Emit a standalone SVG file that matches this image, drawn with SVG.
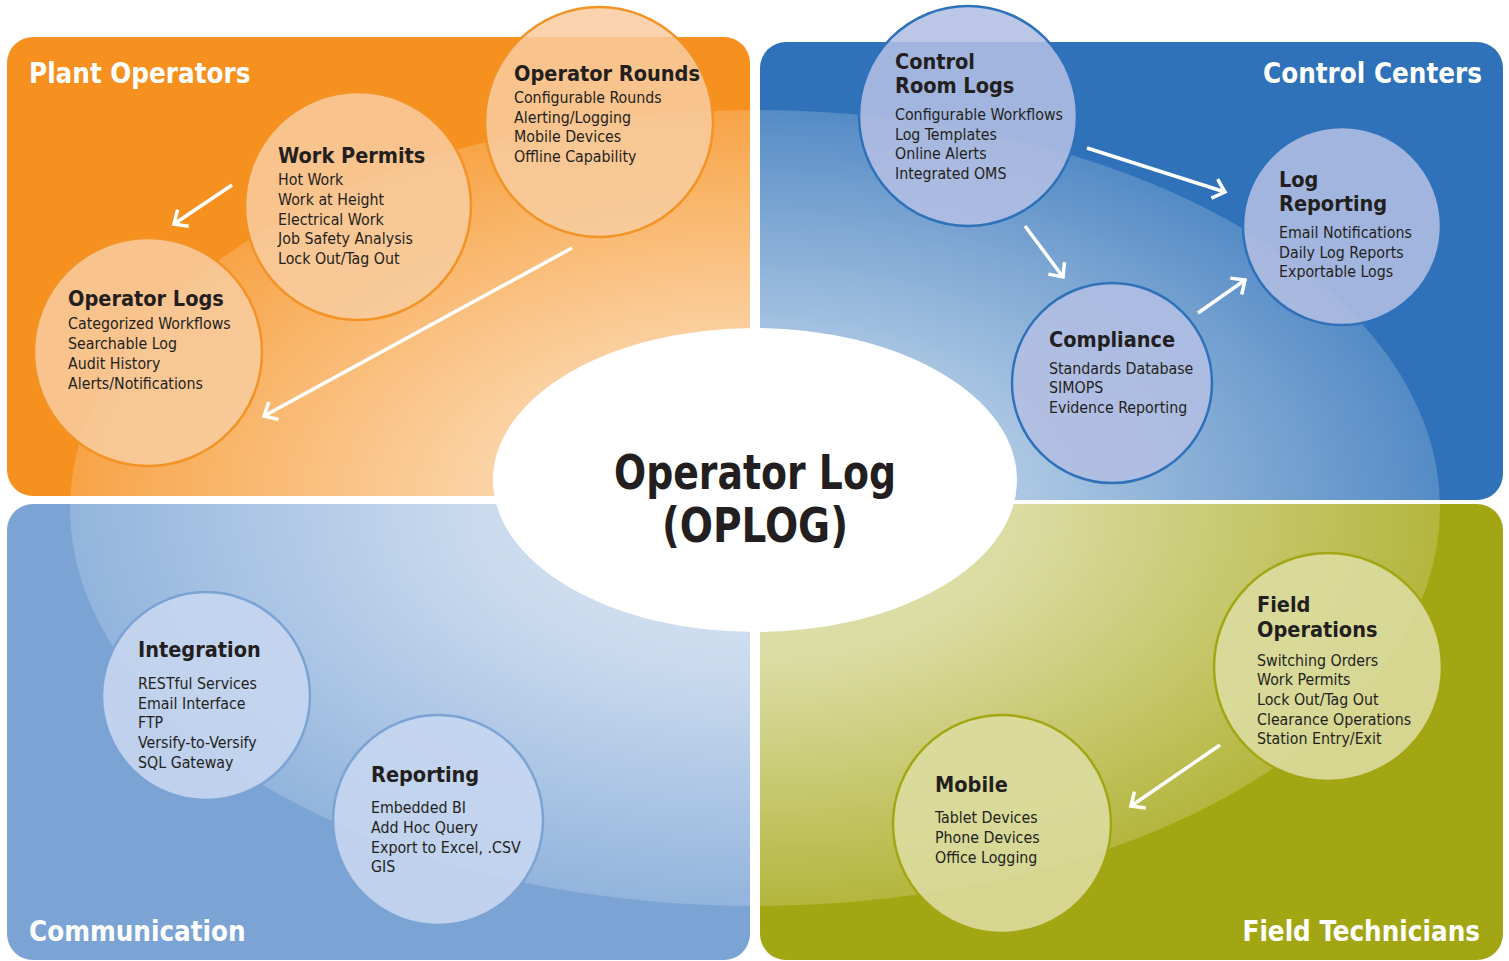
<svg xmlns="http://www.w3.org/2000/svg" width="1509" height="961" viewBox="0 0 1509 961">
<style>
.q{stroke:none}
.lbl{font-family:"DejaVu Sans Condensed","Liberation Sans",sans-serif;font-weight:bold;font-size:27.5px;fill:#ffffff}
.t{font-family:"DejaVu Sans Condensed","Liberation Sans",sans-serif;font-weight:bold;font-size:21.5px;fill:#231F20}
.i{font-family:"DejaVu Sans Condensed","Liberation Sans",sans-serif;font-size:15.8px;fill:#231F20}
.ctr{font-family:"DejaVu Sans Condensed","Liberation Sans",sans-serif;font-weight:bold;font-size:48px;fill:#231F20;text-anchor:middle}
.co{fill:#F8CC9F;fill-opacity:0.86;stroke:#F39325;stroke-width:2.5}
.cb{fill:#B3BEE2;fill-opacity:0.88;stroke:#2F72B9;stroke-width:2.5}
.cl{fill:#C6D6EF;fill-opacity:0.9;stroke:#7BA3D4;stroke-width:2.5}
.cg{fill:#DCDCA0;fill-opacity:0.9;stroke:#A3A613;stroke-width:2.5}
.ar{fill:none;stroke:#ffffff;stroke-width:3.5;marker-end:url(#ah)}
</style>
<defs>
<marker id="ah" markerUnits="userSpaceOnUse" markerWidth="26" markerHeight="26" refX="13" refY="13" orient="auto" viewBox="0 0 26 26">
<path d="M2,3 L13,13 L2,23" fill="none" stroke="#ffffff" stroke-width="3.5"/>
</marker>
<radialGradient id="glow" cx="0.5" cy="0.5" r="0.5">
<stop offset="0" stop-color="#ffffff" stop-opacity="0.72"/>
<stop offset="0.4" stop-color="#ffffff" stop-opacity="0.6"/>
<stop offset="0.75" stop-color="#ffffff" stop-opacity="0.36"/>
<stop offset="1" stop-color="#ffffff" stop-opacity="0.18"/>
</radialGradient>
<clipPath id="quads">
<rect x="7" y="37" width="743" height="459" rx="26"/>
<rect x="760" y="42" width="743" height="458" rx="26"/>
<rect x="7" y="504" width="743" height="456" rx="26"/>
<rect x="760" y="504" width="743" height="456" rx="26"/>
</clipPath>
</defs>
<rect width="1509" height="961" fill="#ffffff"/>
<g id="quadrants">
<rect class="q" x="7" y="37" width="743" height="459" rx="26" fill="#F6901E"/>
<rect class="q" x="760" y="42" width="743" height="458" rx="26" fill="#2F72B9"/>
<rect class="q" x="7" y="504" width="743" height="456" rx="26" fill="#7BA4D5"/>
<rect class="q" x="760" y="504" width="743" height="456" rx="26" fill="#A3A613"/>
<ellipse cx="755" cy="508" rx="685" ry="398" fill="url(#glow)" clip-path="url(#quads)"/>
</g>
<g id="center">
<ellipse cx="755" cy="480" rx="262" ry="152" fill="#ffffff"/>
<text class="ctr" x="755" y="489" textLength="282" lengthAdjust="spacingAndGlyphs">Operator Log</text>
<text class="ctr" x="755" y="542" textLength="186" lengthAdjust="spacingAndGlyphs">(OPLOG)</text>
</g>
<g id="labels">
<text class="lbl" x="29" y="83">Plant Operators</text>
<text class="lbl" x="1482" y="83" text-anchor="end">Control Centers</text>
<text class="lbl" x="29" y="941">Communication</text>
<text class="lbl" x="1480" y="941" text-anchor="end">Field Technicians</text>
</g>
<g id="connectors">
<line class="ar" x1="232" y1="185" x2="174" y2="224"/>
<line class="ar" x1="572" y1="248" x2="264" y2="416"/>
<line class="ar" x1="1087" y1="148" x2="1225" y2="192"/>
<line class="ar" x1="1025" y1="226" x2="1063" y2="277"/>
<line class="ar" x1="1198" y1="313" x2="1245" y2="280"/>
<line class="ar" x1="1220" y1="745" x2="1131" y2="806"/>
</g>
<g id="operator-rounds">
<ellipse class="co" cx="599" cy="122" rx="114" ry="115"/>
<text class="t" x="514" y="81">Operator Rounds</text>
<text class="i" x="514" y="103">Configurable Rounds</text>
<text class="i" x="514" y="123">Alerting/Logging</text>
<text class="i" x="514" y="142">Mobile Devices</text>
<text class="i" x="514" y="162">Offline Capability</text>
</g>
<g id="work-permits">
<ellipse class="co" cx="358" cy="206" rx="113" ry="114"/>
<text class="t" x="278" y="163">Work Permits</text>
<text class="i" x="278" y="185">Hot Work</text>
<text class="i" x="278" y="205">Work at Height</text>
<text class="i" x="278" y="225">Electrical Work</text>
<text class="i" x="278" y="244">Job Safety Analysis</text>
<text class="i" x="278" y="264">Lock Out/Tag Out</text>
</g>
<g id="operator-logs">
<ellipse class="co" cx="148" cy="352" rx="114" ry="114"/>
<text class="t" x="68" y="306">Operator Logs</text>
<text class="i" x="68" y="329">Categorized Workflows</text>
<text class="i" x="68" y="349">Searchable Log</text>
<text class="i" x="68" y="369">Audit History</text>
<text class="i" x="68" y="389">Alerts/Notifications</text>
</g>
<g id="control-room-logs">
<ellipse class="cb" cx="968" cy="116" rx="109" ry="110"/>
<text class="t" x="895" y="69">Control</text>
<text class="t" x="895" y="93">Room Logs</text>
<text class="i" x="895" y="120">Configurable Workflows</text>
<text class="i" x="895" y="140">Log Templates</text>
<text class="i" x="895" y="159">Online Alerts</text>
<text class="i" x="895" y="179">Integrated OMS</text>
</g>
<g id="log-reporting">
<ellipse class="cb" cx="1342" cy="226" rx="99" ry="99"/>
<text class="t" x="1279" y="187">Log</text>
<text class="t" x="1279" y="211">Reporting</text>
<text class="i" x="1279" y="238">Email Notifications</text>
<text class="i" x="1279" y="258">Daily Log Reports</text>
<text class="i" x="1279" y="277">Exportable Logs</text>
</g>
<g id="compliance">
<ellipse class="cb" cx="1112" cy="383" rx="100" ry="100"/>
<text class="t" x="1049" y="347">Compliance</text>
<text class="i" x="1049" y="374">Standards Database</text>
<text class="i" x="1049" y="393">SIMOPS</text>
<text class="i" x="1049" y="413">Evidence Reporting</text>
</g>
<g id="integration">
<ellipse class="cl" cx="206" cy="696" rx="104" ry="104"/>
<text class="t" x="138" y="657">Integration</text>
<text class="i" x="138" y="689">RESTful Services</text>
<text class="i" x="138" y="709">Email Interface</text>
<text class="i" x="138" y="728">FTP</text>
<text class="i" x="138" y="748">Versify-to-Versify</text>
<text class="i" x="138" y="768">SQL Gateway</text>
</g>
<g id="reporting">
<ellipse class="cl" cx="438" cy="820" rx="105" ry="105"/>
<text class="t" x="371" y="782">Reporting</text>
<text class="i" x="371" y="813">Embedded BI</text>
<text class="i" x="371" y="833">Add Hoc Query</text>
<text class="i" x="371" y="853">Export to Excel, .CSV</text>
<text class="i" x="371" y="872">GIS</text>
</g>
<g id="field-operations">
<ellipse class="cg" cx="1328" cy="667" rx="114" ry="114"/>
<text class="t" x="1257" y="612">Field</text>
<text class="t" x="1257" y="637">Operations</text>
<text class="i" x="1257" y="666">Switching Orders</text>
<text class="i" x="1257" y="685">Work Permits</text>
<text class="i" x="1257" y="705">Lock Out/Tag Out</text>
<text class="i" x="1257" y="725">Clearance Operations</text>
<text class="i" x="1257" y="744">Station Entry/Exit</text>
</g>
<g id="mobile">
<ellipse class="cg" cx="1002" cy="824" rx="109" ry="109"/>
<text class="t" x="935" y="792">Mobile</text>
<text class="i" x="935" y="823">Tablet Devices</text>
<text class="i" x="935" y="843">Phone Devices</text>
<text class="i" x="935" y="863">Office Logging</text>
</g>
</svg>
